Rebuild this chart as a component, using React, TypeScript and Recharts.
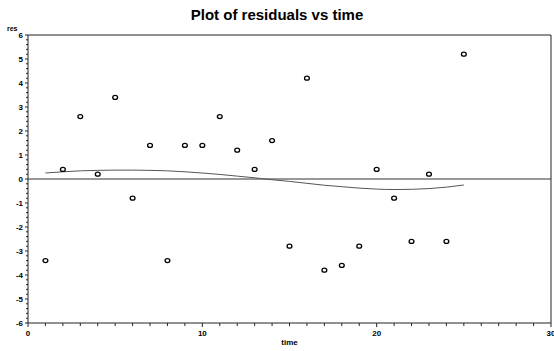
import {
  ComposedChart,
  Scatter,
  Line,
  XAxis,
  YAxis,
  ReferenceLine,
} from "recharts";

const times = [1, 2, 3, 4, 5, 6, 7, 8, 9, 10, 11, 12, 13, 14, 15, 16, 17, 18, 19, 20, 21, 22, 23, 24, 25];
const residuals = [
  -3.4, 0.4, 2.6, 0.2, 3.4, -0.8, 1.4, -3.4, 1.4, 1.4, 2.6, 1.2, 0.4, 1.6, -2.8,
  4.2, -3.8, -3.6, -2.8, 0.4, -0.8, -2.6, 0.2, -2.6, 5.2,
];
const smooth = [
  0.25, 0.3, 0.34, 0.36, 0.37, 0.37, 0.36, 0.34, 0.3, 0.25, 0.19, 0.12, 0.05,
  -0.03, -0.1, -0.18, -0.26, -0.32, -0.38, -0.42, -0.44, -0.43, -0.4, -0.34, -0.25,
];
const xTicks = Array.from({ length: 31 }, (_, i) => i);
const yTicks = Array.from({ length: 61 }, (_, i) => Math.round((-6 + i * 0.2) * 10) / 10);

const data = times.map((t, i) => ({ time: t, res: residuals[i], fit: smooth[i] }));

const INK = "#222";
const tickFont = { fontFamily: "'Liberation Sans', Arial, sans-serif", fontSize: 8, fontWeight: 700 };

const isMajor = (v: number) => Math.abs(v - Math.round(v)) < 1e-6;

function XTick(props: any) {
  const { x, y, payload } = props;
  const v = payload.value as number;
  const major = v % 10 === 0;
  return (
    <g>
      <line x1={x} y1={y} x2={x} y2={y + (major ? 4 : 3)} stroke={INK} strokeWidth={1} />
      {major && (
        <text x={x} y={y + 13} textAnchor="middle" fill="#000" {...tickFont}>
          {v}
        </text>
      )}
    </g>
  );
}

function YTick(props: any) {
  const { x, y, payload } = props;
  const v = payload.value as number;
  const major = isMajor(v);
  return (
    <g>
      <line x1={x - (major ? 3 : 2)} y1={y} x2={x} y2={y} stroke={INK} strokeWidth={1} />
      {major && (
        <text x={x - 5} y={y + 3} textAnchor="end" fill="#000" {...tickFont}>
          {Math.round(v)}
        </text>
      )}
    </g>
  );
}

function Dot(props: any) {
  const { cx, cy } = props;
  return <ellipse cx={cx} cy={cy} rx={2.4} ry={2} fill="#fff" stroke="#000" strokeWidth={1.3} />;
}

export default function App() {
  return (
    <div style={{ position: "absolute", left: 0, top: 0, width: 554, height: 351, background: "#fff" }}>
      <div
        style={{
          position: "absolute",
          top: 6,
          left: 0,
          width: 554,
          textAlign: "center",
          fontFamily: "'Liberation Sans', Arial, sans-serif",
          fontWeight: 700,
          fontSize: 15,
        }}
      >
        Plot of residuals vs time
      </div>
      <div
        style={{
          position: "absolute",
          top: 25,
          left: 7,
          fontFamily: "'Liberation Sans', Arial, sans-serif",
          fontWeight: 700,
          fontSize: 7,
        }}
      >
        res
      </div>
      <div
        style={{
          position: "absolute",
          top: 338,
          left: 28,
          width: 523,
          textAlign: "center",
          fontFamily: "'Liberation Sans', Arial, sans-serif",
          fontWeight: 700,
          fontSize: 8,
        }}
      >
        time
      </div>
      <ComposedChart
        width={554}
        height={351}
        data={data}
        margin={{ top: 35, right: 3, bottom: 0, left: 0 }}
      >
        <XAxis
          dataKey="time"
          type="number"
          domain={[0, 30]}
          ticks={xTicks}
          interval={0}
          height={28}
          tickSize={0}
          tickMargin={0}
          tickLine={false}
          axisLine={{ stroke: INK }}
          tick={<XTick />}
        />
        <YAxis
          type="number"
          domain={[-6, 6]}
          ticks={yTicks}
          interval={0}
          width={28}
          tickSize={0}
          tickMargin={0}
          tickLine={false}
          axisLine={{ stroke: INK }}
          tick={<YTick />}
        />
        <ReferenceLine y={6} stroke={INK} strokeWidth={1} />
        <ReferenceLine x={30} stroke={INK} strokeWidth={1} />
        <ReferenceLine y={0} stroke="#333" strokeWidth={1} />
        <Line
          dataKey="fit"
          type="monotone"
          stroke="#555"
          strokeWidth={1}
          dot={false}
          activeDot={false}
          isAnimationActive={false}
        />
        <Scatter dataKey="res" shape={<Dot />} isAnimationActive={false} />
      </ComposedChart>
    </div>
  );
}
